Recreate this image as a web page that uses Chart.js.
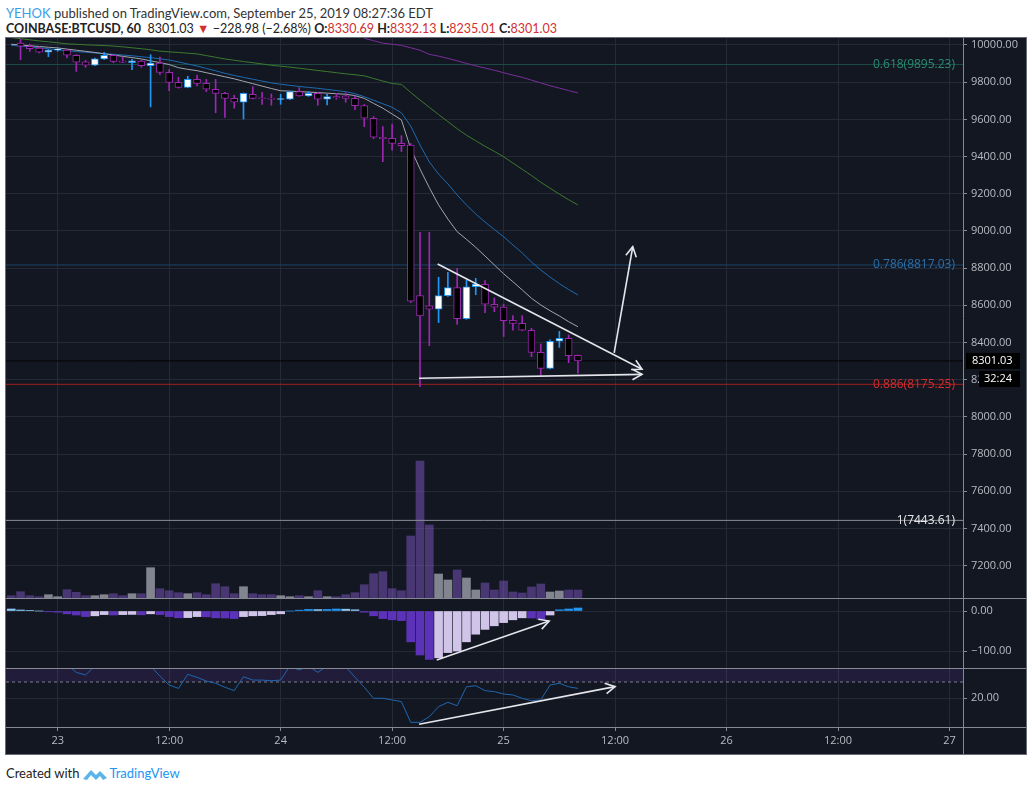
<!DOCTYPE html>
<html>
<head>
<meta charset="utf-8">
<script src="https://cdn.jsdelivr.net/npm/chart.js@4.4.1/dist/chart.umd.min.js"></script>
<style>
  body { margin: 0; width: 1032px; height: 791px; overflow: hidden; background: #fff; position: relative; font-family: Lato, 'Open Sans', sans-serif; }
  #hdr1 { position: absolute; left: 6px; top: 4px; font-size: 13px; color: #333; white-space: nowrap; line-height: 18px; }
  #hdr2 { position: absolute; left: 6px; top: 20px; font-size: 12.5px; color: #222; white-space: nowrap; line-height: 18px; }
  .dn { color: #d32f2f; }
  #foot { position: absolute; left: 6px; top: 764px; font-size: 13px; color: #222; white-space: nowrap; line-height: 18px; }
  #foot svg { vertical-align: -4px; margin: 0 1px 0 3px; }
  #frame { position: absolute; left: 5px; top: 37px; width: 1020px; height: 716px; border: 1px solid #6a6d78; background: #131722; overflow: hidden; }
  .pane { position: absolute; left: 0; }
  .sep { position: absolute; left: 0; width: 1020px; height: 1px; background: #868993; }
  #vsep { position: absolute; left: 957px; top: 689px; width: 1px; height: 27px; background: #868993; }
</style>
</head>
<body>
<div id="hdr1"><span style="color:#3aa0e8">YEHOK</span> published on TradingView.com, September 25, 2019 08:27:36 EDT</div>
<div id="hdr2"><b>COINBASE:BTCUSD, 60</b>&nbsp; 8301.03 <span class="dn">▼</span> −228.98 (−2.68%) <b>O:</b><span class="dn">8330.69</span> <b>H:</b><span class="dn">8332.13</span> <b>L:</b><span class="dn">8235.01</span> <b>C:</b><span class="dn">8301.03</span></div>
<div id="frame">
  <canvas id="mainChart" class="pane" style="top:0" width="1020" height="560"></canvas>
  <canvas id="macdChart" class="pane" style="top:560px" width="1020" height="70"></canvas>
  <canvas id="rsiChart" class="pane" style="top:630px" width="1020" height="86"></canvas>
  <div class="sep" style="top:560px"></div>
  <div class="sep" style="top:630px"></div>
  <div class="sep" style="top:689px"></div>
  <div id="vsep"></div>
</div>
<div id="foot">Created with<svg width="26" height="16" viewBox="0 0 26 16"><path d="M1 13 L9 4 L14 9 L18 5 L25 12 L21 14 L18 10 L14 14 L9 9 L5 14 Z" fill="#5bb3e8"/></svg><span style="color:#2196f3">TradingView</span></div>

<script>
// hours counted from Sep 23 00:00 (one candle per hour)
const hours = [-5,-4,-3,-2,-1,0,1,2,3,4,5,6,7,8,9,10,11,12,13,14,15,16,17,18,19,20,
  21,22,23,24,25,26,27,28,29,30,31,32,33,34,35,36,37,38,39,40,41,42,43,44,45,46,47,48,49,50,51,52,53,54,55,56];

const open = [10060,10010,9993,9984,9961,9972,9973,9945,9909,9891,9925,9945,9912,9905,9914,9889,9903,9853,9799,9772,
  9815,9794,9762,9740,9713,9692,9735,9716,9713,9707,9708,9749,9726,9740,9708,9722,9726,9713,9674,9606,
  9504,9498,9471,9462,8652,8598,8579,8652,8695,8528,8700,8713,8606,8590,8520,8503,8466,8347,8261,8407,8423,8330.69];
const high = [10085,10030,10005,9990,9975,9985,9976,9948,9917,9930,9961,9948,9935,9923,9918,9948,9935,9867,9826,9832,
  9838,9815,9815,9745,9730,9742,9776,9746,9737,9735,9751,9771,9749,9746,9735,9740,9744,9726,9680,9615,
  9561,9575,9512,9470,8993,8993,8751,8778,8799,8736,8745,8733,8640,8607,8545,8545,8477,8392,8414,8460,8441,8332.13];
const low = [10040,9921,9966,9957,9937,9966,9930,9858,9880,9889,9923,9905,9905,9867,9880,9667,9840,9754,9768,9770,
  9780,9749,9636,9611,9660,9602,9710,9681,9676,9681,9706,9724,9724,9676,9678,9708,9692,9652,9561,9496,
  9372,9435,9427,8615,8163,8383,8507,8648,8498,8525,8657,8560,8566,8432,8466,8463,8324,8225,8258,8374,8292,8235.01];
const close = [10045,9993,9980,9961,9972,9976,9945,9907,9891,9925,9945,9912,9907,9915,9889,9903,9853,9799,9772,9815,
  9794,9762,9740,9713,9692,9740,9713,9711,9708,9711,9749,9726,9740,9708,9722,9716,9713,9674,9606,9504,
  9496,9471,9458,8622,8543,8579,8652,8695,8528,8700,8714,8606,8590,8517,8503,8466,8347,8261,8407,8423,8329,8301.03];
const volume = [46,126,46,26,66,26,166,114,46,46,66,86,46,86,86,606,186,146,106,86,
  106,66,286,226,86,226,86,66,66,46,26,46,26,146,26,26,66,106,266,486,
  526,186,146,1240,2740,1460,480,360,560,400,160,300,160,340,120,100,220,280,120,140,160,160];

// moving averages
const maFast = [10004,10000,9996,9992,9988,9984,9978,9972,9966,9960,9953,9946,9939,9932,9925,9915,9905,9895,9878,9869,
  9862,9851,9840,9829,9818,9805,9792,9779,9766,9754,9752,9749,9747,9744,9741,9738,9735,9728,9713,9686,
  9660,9629,9597,9443,9333,9233,9140,9064,8996,8955,8912,8865,8817,8770,8727,8683,8638,8602,8571,8543,8512,8485];
const maMid = [9998,9994,9990,9985,9980,9974,9969,9965,9961,9957,9953,9950,9946,9942,9937,9932,9926,9919,9909,9898,
  9887,9874,9861,9848,9836,9826,9816,9806,9796,9789,9783,9777,9772,9767,9761,9755,9749,9738,9722,9703,
  9684,9665,9635,9564,9462,9371,9306,9253,9193,9140,9091,9048,9008,8969,8925,8882,8833,8790,8752,8717,8685,8656];
const maSlow = [10040,10034,10028,10022,10017,10012,10006,10004,10001,9999,9997,9994,9990,9985,9980,9974,9967,9963,9960,9956,
  9952,9943,9934,9925,9918,9911,9905,9898,9891,9886,9881,9875,9869,9863,9857,9851,9845,9840,9834,9820,
  9806,9793,9788,9745,9704,9665,9626,9588,9550,9515,9485,9455,9428,9399,9365,9332,9298,9262,9230,9198,9168,9140];
const maLong = [null,null,null,null,null,null,null,null,null,null,null,null,null,null,null,null,null,null,null,null,
  null,null,null,null,null,null,null,null,null,null,null,null,null,null,null,null,null,null,10036,10023,
  10010,10004,9998,9985,9972,9950,9940,9928,9915,9901,9888,9876,9864,9851,9838,9826,9811,9796,9781,9768,9755,9742];

const macdHist = [5,2.5,1,0,-2,-3,-7,-10,-14,-12,-9,-10,-9,-8.5,-9.5,-7,-9,-14,-17,-16.5,
  -14,-14.5,-17,-17.5,-19,-14,-12,-11.5,-9,-7,0,2,4,3.5,4,5,4.5,3,-3,-12,
  -19,-22,-24,-77,-110,-121,-117,-104,-100,-77,-58,-46,-37,-29,-22,-17,-17.5,-21,-10,3,5,7.5];
const rsi = [45,44,43,42,44,45,41,36,34.4,40,42,44,45,42,39,40,33.7,28.1,26,34.8,
  32.9,30.6,29.2,26.7,24.6,33.3,31.2,31.2,30.8,31.2,40,37.5,40,36,40,41,39.5,33,26.7,19.8,
  19.8,18.8,17.7,4.8,4.8,8.3,14.6,17.3,15.2,27,27.7,24.6,24,22.5,21.9,19.8,18.3,18.8,28.1,29.2,27,26];

// fibonacci retracement levels
const fibLevels = [0.618, 0.786, 0.886, 1];
const fibPrices = [9895.23, 8817.03, 8175.25, 7443.61];

// drawn trend lines (hour, value)
const trendDown = [{x: 40.9, y: 8822}, {x: 62.9, y: 8256}];
const supportLine = [{x: 38.9, y: 8208}, {x: 62.9, y: 8229}];
const breakoutLine = [{x: 59.9, y: 8344}, {x: 61.9, y: 8915}];
const macdDivLine = [{x: 40.8, y: -122.5}, {x: 52.9, y: -25}];
const rsiDivLine = [{x: 38.9, y: 3.6}, {x: 60, y: 27.1}];

// axes
const priceTicks = [7200,7400,7600,7800,8000,8200,8400,8600,8800,9000,9200,9400,9600,9800,10000];
const macdTicks = [0, -100];
const rsiTicks = [20];
const rsiBandLow = 30;
const timeTickHours = [0,12,24,36,48,60,72,84,96];
const timeTickLabels = ['23','12:00','24','12:00','25','12:00','26','12:00','27'];
const countdown = '32:24';

const X_MIN = -5.565, X_MAX = 97.45;
const GRID = '#262a36';
const AXIS_TEXT = '#b8bbc3';
const LINE_GRAY = '#868993';

Chart.defaults.font.family = "'Open Sans', 'Noto Sans', sans-serif";
Chart.defaults.font.size = 11;
Chart.defaults.color = AXIS_TEXT;
Chart.defaults.animation = false;
Chart.defaults.events = [];
Chart.defaults.plugins.legend.display = false;
Chart.defaults.plugins.tooltip.enabled = false;

const isUp = i => close[i] >= open[i];

function xScale(showLabels) {
  return {
    type: 'linear', min: X_MIN, max: X_MAX, offset: false,
    afterBuildTicks: s => { s.ticks = timeTickHours.map(v => ({value: v})); },
    afterFit: s => { s.height = showLabels ? 27 : 0; s.paddingLeft = 0; s.paddingRight = 0; },
    grid: { color: GRID, drawTicks: showLabels, tickLength: 4, tickColor: LINE_GRAY, offset: false },
    border: { display: false },
    ticks: { display: showLabels, color: AXIS_TEXT, padding: 3, maxRotation: 0, autoSkip: false,
      callback: v => timeTickLabels[timeTickHours.indexOf(v)] }
  };
}

function yScale(min, max, ticks, fmt) {
  return {
    position: 'right', min: min, max: max,
    afterBuildTicks: s => { s.ticks = ticks.map(v => ({value: v})); },
    afterFit: s => { s.width = 63; s.paddingTop = 0; s.paddingBottom = 0; },
    grid: { color: GRID, drawTicks: true, tickLength: 4, tickColor: LINE_GRAY },
    border: { display: true, color: LINE_GRAY },
    ticks: { color: AXIS_TEXT, padding: 4, autoSkip: false, callback: fmt }
  };
}

const fmtSigned = v => (v < 0 ? '\u2212' : '') + Math.abs(v).toFixed(2);

function lineSet(values, color, width) {
  return {
    type: 'line', data: hours.map((h, i) => ({x: h, y: values[i]})),
    borderColor: color, borderWidth: width || 1, pointRadius: 0, tension: 0, order: 3
  };
}

function arrowSet(points) {
  return { type: 'line', data: points, borderColor: '#e4e6ec', borderWidth: 1.6,
    pointRadius: 0, order: -1, arrow: true, clip: false };
}

function hLine(value, color, width, extra) {
  return Object.assign({ type: 'line', data: [{x: X_MIN, y: value}, {x: X_MAX, y: value}],
    borderColor: color, borderWidth: width || 1, pointRadius: 0, order: 4, fill: false }, extra || {});
}

// arrow heads and level labels
const overlay = {
  id: 'overlay',
  afterDatasetsDraw(chart) {
    const ctx = chart.ctx;
    chart.data.datasets.forEach((ds, i) => {
      const pts = chart.getDatasetMeta(i).data;
      if (ds.arrow) {
        const a = pts[pts.length - 2], b = pts[pts.length - 1];
        const ang = Math.atan2(b.y - a.y, b.x - a.x);
        ctx.save();
        ctx.strokeStyle = ds.borderColor; ctx.lineWidth = ds.borderWidth;
        ctx.beginPath();
        ctx.moveTo(b.x - 11 * Math.cos(ang - 0.5), b.y - 11 * Math.sin(ang - 0.5));
        ctx.lineTo(b.x, b.y);
        ctx.lineTo(b.x - 11 * Math.cos(ang + 0.5), b.y - 11 * Math.sin(ang + 0.5));
        ctx.stroke();
        ctx.restore();
      }
      if (ds.tag) {
        const y = chart.scales.y.getPixelForValue(ds.data[0].y);
        ctx.save();
        ctx.font = "12px 'Open Sans', sans-serif";
        ctx.fillStyle = ds.tagColor; ctx.textAlign = 'right'; ctx.textBaseline = 'middle';
        ctx.fillText(ds.tag, chart.chartArea.right - 8, y);
        ctx.restore();
      }
    });
  }
};

// last price and countdown boxes on the price axis
const badge = {
  id: 'badge',
  afterDraw(chart) {
    const last = close[close.length - 1];
    const y = chart.scales.y.getPixelForValue(last);
    const r = chart.chartArea.right;
    const ctx = chart.ctx;
    ctx.save();
    ctx.fillStyle = '#000';
    ctx.fillRect(r + 3, y - 8, 54, 16);
    ctx.fillRect(r + 16, y + 10, 41, 16);
    ctx.fillStyle = '#fff';
    ctx.font = "11px 'Open Sans', sans-serif";
    ctx.textBaseline = 'middle';
    ctx.fillText(last.toFixed(2), r + 9, y);
    ctx.fillText(countdown, r + 21, y + 18);
    ctx.restore();
  }
};

const fibColors = ['#1b4d44', '#1d4568', '#a01f1f', '#8a8d96'];
const fibTextColors = ['#2a8c72', '#2c6fa8', '#d32f2f', '#e8e8ea'];

new Chart(document.getElementById('mainChart'), {
  type: 'line',
  data: {
    datasets: [
      { type: 'bar', data: hours.map((h, i) => ({x: h, y: [open[i], close[i]]})),
        backgroundColor: hours.map((h, i) => isUp(i) ? '#ffffff' : '#000000'),
        borderColor: hours.map((h, i) => isUp(i) ? '#2196f3' : '#9c27b0'),
        borderWidth: 1, borderSkipped: false, barThickness: 7, minBarLength: 1, grouped: false, order: 0 },
      { type: 'bar', data: hours.map((h, i) => ({x: h, y: [low[i], high[i]]})),
        backgroundColor: hours.map((h, i) => isUp(i) ? '#2196f3' : '#9c27b0'),
        barThickness: 1, grouped: false, order: 1 },
      lineSet(maFast, '#a3a6af'),
      lineSet(maMid, '#1e6bb0'),
      lineSet(maSlow, '#3b7a30'),
      lineSet(maLong, '#7a2f9a'),
      { type: 'bar', yAxisID: 'vol', data: hours.map((h, i) => ({x: h, y: volume[i]})),
        backgroundColor: hours.map((h, i) => isUp(i) ? 'rgba(178,181,190,0.7)' : 'rgba(126,87,194,0.5)'),
        barThickness: 8, grouped: false, order: 6 },
      ...fibPrices.map((p, k) => hLine(p, fibColors[k], 1,
        { tag: fibLevels[k] + '(' + p.toFixed(2) + ')', tagColor: fibTextColors[k] })),
      hLine(close[close.length - 1], 'rgba(0,0,0,0.9)', 1),
      arrowSet(trendDown),
      arrowSet(supportLine),
      arrowSet(breakoutLine)
    ]
  },
  options: {
    responsive: false,
    layout: { padding: 0 },
    scales: {
      x: xScale(false),
      y: yScale(7026.2, 10037.6, priceTicks, v => v.toFixed(2)),
      vol: { display: false, min: 0, max: 11200 }
    }
  },
  plugins: [overlay, badge]
});

const histColor = i => {
  const v = macdHist[i], prev = i > 0 ? macdHist[i - 1] : v;
  if (v >= 0) return v > prev ? '#2196f3' : '#90caf9';
  return v < prev ? '#5c33b8' : '#d1c4e9';
};

new Chart(document.getElementById('macdChart'), {
  type: 'line',
  data: {
    datasets: [
      { type: 'bar', data: hours.map((h, i) => ({x: h, y: macdHist[i]})),
        backgroundColor: hours.map((h, i) => histColor(i)), barThickness: 8, grouped: false, order: 2 },
      arrowSet(macdDivLine)
    ]
  },
  options: {
    responsive: false,
    scales: { x: xScale(false), y: yScale(-142.5, 32.5, macdTicks, fmtSigned) }
  },
  plugins: [overlay]
});

new Chart(document.getElementById('rsiChart'), {
  type: 'line',
  data: {
    datasets: [
      hLine(rsiBandLow, '#7e808a', 1, { borderDash: [3, 3], order: 7,
        fill: 'end', backgroundColor: 'rgba(103,58,183,0.16)' }),
      lineSet(rsi, '#2066b0'),
      arrowSet(rsiDivLine)
    ]
  },
  options: {
    responsive: false,
    scales: { x: xScale(true), y: yScale(1.875, 38.75, rsiTicks, v => v.toFixed(2)) }
  },
  plugins: [overlay]
});
</script>
</body>
</html>
